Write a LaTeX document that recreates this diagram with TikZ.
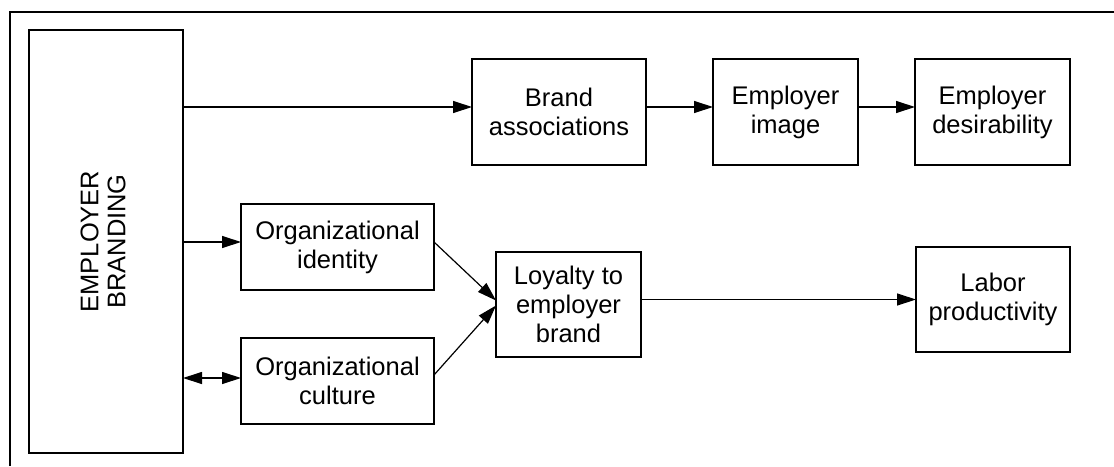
\documentclass[tikz,border=0pt]{standalone}
\usepackage{fontspec}
\setmainfont{Liberation Sans}
\usetikzlibrary{arrows.meta}
\begin{document}
\begin{tikzpicture}[x=1pt,y=-1pt,
  box/.style={draw, line width=1.2pt, inner sep=0pt, outer sep=0pt, align=center,
    font=\fontsize{25.5}{29}\selectfont},
  arr/.style={line width=1.2pt, -{Triangle[length=19pt,width=12pt]}},
  darr/.style={line width=1.2pt, {Triangle[length=19pt,width=12pt]}-{Triangle[length=19pt,width=12pt]}}]
\useasboundingbox (0,0) rectangle (1114,466);
\draw[line width=2pt] (9.5,466) -- (9.5,11.5) -- (1114,11.5);
\node[box, line width=2.2pt, minimum width=154pt, minimum height=423pt] (eb) at (106,241.5)
  {\rotatebox{90}{\begin{tabular}{@{}c@{}}EMPLOYER\\[-2pt]BRANDING\end{tabular}}};
\node[box, minimum width=174pt, minimum height=106pt] (ba) at (559,112) {Brand\\associations};
\node[box, minimum width=145pt, minimum height=106pt] (ei) at (785.5,112) {Employer\\image};
\node[box, minimum width=155pt, minimum height=106pt] (ed) at (992.5,112) {Employer\\desirability};
\node[box, minimum width=193pt, minimum height=86pt] (oi) at (337.5,247) {Organizational\\identity};
\node[box, minimum width=193pt, minimum height=86pt] (oc) at (337.5,381) {Organizational\\culture};
\node[box, minimum width=145pt, minimum height=105pt] (lb) at (568.5,304.5) {Loyalty to\\employer\\brand};
\node[box, minimum width=154pt, minimum height=105pt] (lp) at (993,299.5) {Labor\\productivity};
\coordinate (tba) at ([yshift=5pt]ba.west);
\coordinate (toi) at ([yshift=5pt]oi.west);
\coordinate (toc) at ([yshift=3pt]oc.west);
\draw[arr] (eb.east |- tba) -- (tba);
\draw[arr] ([yshift=5pt]ba.east) -- ([yshift=5pt]ei.west);
\draw[arr] ([yshift=5pt]ei.east) -- ([yshift=5pt]ed.west);
\draw[arr] (eb.east |- toi) -- (toi);
\draw[darr] (eb.east |- toc) -- (toc);
\draw[arr] ([yshift=5pt]oi.east) -- ([yshift=4pt]lb.west);
\draw[arr] ([yshift=6pt]oc.east) -- ([yshift=-1pt]lb.west);
\draw[arr] (lb.east |- lp.west) -- (lp.west);
\end{tikzpicture}
\end{document}
